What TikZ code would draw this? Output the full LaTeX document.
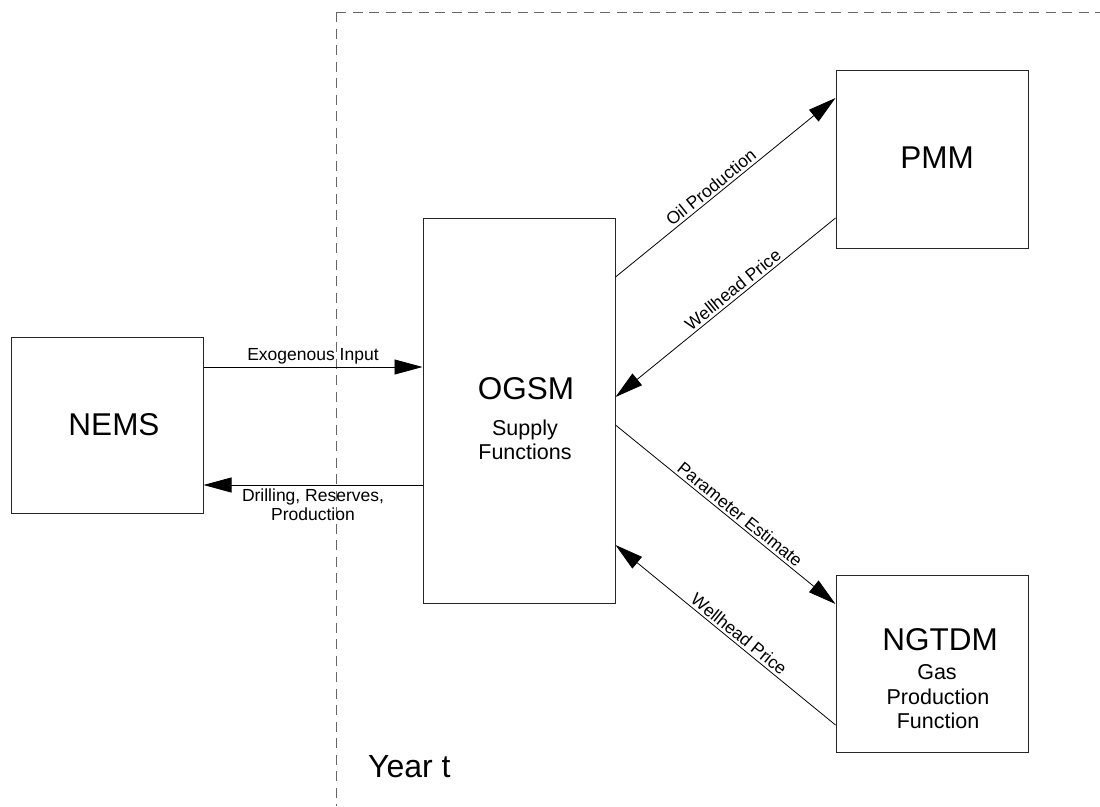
\documentclass[tikz,border=0pt]{standalone}
\usepackage{fontspec}
\setmainfont{Liberation Sans}
\usetikzlibrary{arrows.meta,calc}
\begin{document}
\begin{tikzpicture}[x=1pt,y=-1pt,
  box/.style={draw=black!85, line width=1pt, minimum width=192pt, inner sep=0pt},
  ttl/.style={font=\fontsize{31.5}{36}\selectfont, anchor=base, inner sep=0pt},
  sub/.style={font=\fontsize{21.5}{24.5}\selectfont, anchor=base, inner sep=0pt},
  lbl/.style={font=\fontsize{17.5}{19.5}\selectfont, inner sep=2.5pt},
  arr/.style={line width=0.8pt, -{Triangle[length=28pt,width=15pt]}},
  divider/.style={draw=black!60, line width=1pt, dash pattern=on 10pt off 6.5pt}]
\useasboundingbox (0,0) rectangle (1100,806);

% year boundary
\coordinate (corner) at (336,12);
\coordinate (vend) at (336,806);
\coordinate (hend) at (1100,12);
\draw[divider] (corner) -- (vend);
\draw[divider] (corner) -- (hend);

% boxes
\node[box, minimum height=176pt] (nems) at (107,425) {};
\node[box, minimum height=385pt] (ogsm) at (519,410.5) {};
\node[box, minimum height=178pt] (pmm) at (932,159) {};
\node[box, minimum height=177pt] (ngtdm) at (932,663.5) {};

% box texts
\node[ttl] (nemsT) at (114,435) {NEMS};
\node[ttl] (pmmT) at (937,168) {PMM};
\node[ttl] (ogsmT) at (526,399) {OGSM};
\node[sub] (ogsmS1) at (525,435) {Supply};
\node[sub] (ogsmS2) at (525,459) {Functions};
\node[ttl] (ngtdmT) at (940,650) {NGTDM};
\node[sub] (ngtdmS1) at (937,679) {Gas};
\node[sub] (ngtdmS2) at (938,704) {Production};
\node[sub] (ngtdmS3) at (938,728) {Function};

\node[anchor=base west, font=\fontsize{32}{36}\selectfont, inner sep=0pt] (yeart) at (368,777) {Year t};

% horizontal connectors
\draw[arr] (nems.east |- 0,367) -- (ogsm.west |- 0,367)
  node[lbl, midway, anchor=south] (exo) {Exogenous Input};
\draw[arr] (ogsm.west |- 0,485) -- (nems.east |- 0,485)
  node[lbl, midway, anchor=north, align=center, inner sep=3pt] (drill) {Drilling, Reserves,\\Production};

% slanted connectors
\draw[arr] (ogsm.east |- 0,277) -- (pmm.west |- 0,98)
  node[lbl, pos=0.46, rotate=39, anchor=south] (oil) {Oil Production};
\draw[arr] (pmm.west |- 0,218) -- (ogsm.east |- 0,397)
  node[lbl, pos=0.44, rotate=39, anchor=south] (wp1) {Wellhead Price};
\draw[arr] (ogsm.east |- 0,425) -- (ngtdm.west |- 0,604)
  node[lbl, pos=0.54, rotate=-39, anchor=south] (par) {Parameter Estimate};
\draw[arr] (ngtdm.west |- 0,725) -- (ogsm.east |- 0,545)
  node[lbl, pos=0.465, rotate=-39, anchor=south] (wp2) {Wellhead Price};
\end{tikzpicture}
\end{document}
